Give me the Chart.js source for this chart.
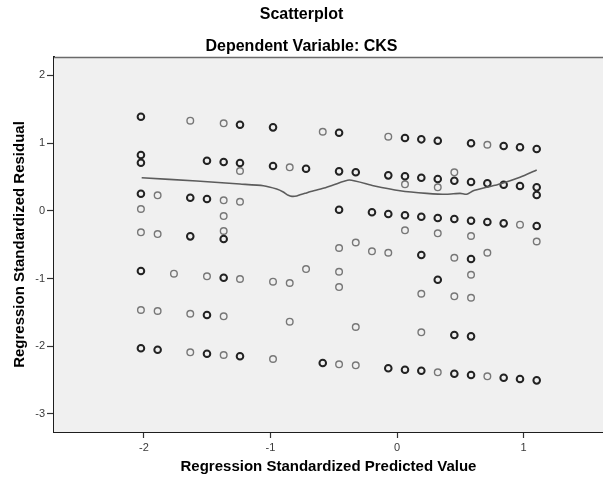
<!DOCTYPE html>
<html>
<head>
<meta charset="utf-8">
<script src="https://cdn.jsdelivr.net/npm/chart.js@4.4.1/dist/chart.umd.min.js"></script>
<style>
  html, body { margin: 0; padding: 0; background: #ffffff; }
  #wrap { width: 603px; height: 480px; }
</style>
</head>
<body>
<div id="wrap"><canvas id="c" width="603" height="480"></canvas></div>
<script>
// Residuals for cases whose points coincide with others (drawn darker)
const heavyPred = [-2.024, -1.241, -0.980, -2.024, -2.024, -1.502, -1.370, -1.241, -0.980, -0.719,
  -2.024, -1.634, -1.502, -1.370, -1.634, -2.024, -1.370, -1.502,
  -2.024, -1.892, -1.502, -1.241, -0.587,
  -0.458, 0.063, 0.192, 0.322, 0.585, 0.843, 0.972, 1.104,
  -0.458, -0.326, -0.069, 0.063, 0.192, 0.322, 0.453, 0.585, 0.714, 0.843, 0.972, 1.104, 1.104,
  -0.458, -0.198, -0.069, 0.063, 0.192, 0.322, 0.453, 0.585, 0.714, 0.843, 1.104,
  0.192, 0.585, 0.322, 0.453, 0.585,
  -0.069, 0.063, 0.192, 0.453, 0.585, 0.843, 0.972, 1.104];
const heavyResid = [1.390, 1.272, 1.233, 0.824, 0.710, 0.740, 0.721, 0.706, 0.662, 0.622,
  0.253, 0.194, 0.174, -0.417, -0.377, -0.889, -0.988, -1.539,
  -2.031, -2.052, -2.111, -2.149, -2.248,
  1.154, 1.075, 1.056, 1.035, 0.997, 0.957, 0.938, 0.913,
  0.583, 0.569, 0.524, 0.510, 0.489, 0.470, 0.445, 0.425, 0.406, 0.386, 0.366, 0.347, 0.233,
  0.016, -0.022, -0.047, -0.066, -0.087, -0.106, -0.121, -0.146, -0.165, -0.185, -0.225,
  -0.653, -0.712, -1.018, -1.835, -1.854,
  -2.326, -2.347, -2.362, -2.406, -2.425, -2.465, -2.485, -2.504];

// Residuals for single cases
const lightPred = [-1.634, -1.370, -0.587, -1.241, -0.848,
  -1.892, -1.370, -1.241, -2.024, -1.370,
  -2.024, -1.892, -1.370,
  -1.763, -1.502, -1.241, -0.980, -0.848, -0.719,
  -2.024, -1.892, -1.634, -1.370, -0.848,
  -1.634, -1.370, -0.980,
  -0.069, 0.714, 0.063, 0.322, 0.453, 0.972,
  0.063, 0.322, 0.585, 1.104,
  -0.458, -0.326, -0.198, -0.069, 0.453, 0.714,
  -0.458, -0.458, 0.585, 0.192, 0.453, 0.585,
  -0.326, 0.192,
  -0.458, -0.326, 0.322, 0.714];
const lightResid = [1.331, 1.292, 1.168, 0.588, 0.643,
  0.229, 0.155, 0.134, 0.027, -0.077,
  -0.318, -0.343, -0.298,
  -0.929, -0.967, -1.007, -1.047, -1.066, -0.860,
  -1.465, -1.480, -1.520, -1.558, -1.638,
  -2.090, -2.130, -2.189,
  1.095, 0.976, 0.391, 0.347, 0.569, -0.205,
  -0.288, -0.332, -0.372, -0.453,
  -0.549, -0.468, -0.598, -0.619, -0.693, -0.619,
  -0.900, -1.126, -0.944, -1.225, -1.263, -1.284,
  -1.716, -1.795,
  -2.267, -2.282, -2.386, -2.445];

// Loess fit line through the residuals
const fitPred = [-2.018, -1.583, -1.241, -1.057, -0.951, -0.899, -0.859, -0.830, -0.793, -0.767,
  -0.727, -0.688, -0.583, -0.504, -0.377, -0.187, 0.024, 0.235, 0.393, 0.498,
  0.551, 0.603, 0.709, 0.814, 0.972, 1.104];
const fitResid = [0.489, 0.440, 0.396, 0.371, 0.322, 0.278, 0.229, 0.214, 0.219, 0.238,
  0.258, 0.282, 0.332, 0.381, 0.455, 0.371, 0.297, 0.258, 0.244, 0.258,
  0.244, 0.297, 0.347, 0.396, 0.495, 0.603];

const xTicks = [-2, -1, 0, 1];
const yTicks = [-3, -2, -1, 0, 1, 2];

const zip = (xs, ys) => xs.map((x, i) => ({ x: x, y: ys[i] }));

const FONT = '"Liberation Sans", Arial, Helvetica, sans-serif';

// Plot panel: light grey fill and top frame line
const panelPlugin = {
  id: 'panel',
  beforeDatasetsDraw(chart) {
    const { ctx, chartArea: a } = chart;
    ctx.save();
    ctx.fillStyle = '#f0f0f0';
    ctx.fillRect(a.left, a.top, a.right - a.left, a.bottom - a.top);
    ctx.strokeStyle = '#6a6a6a';
    ctx.lineWidth = 1.5;
    ctx.beginPath();
    ctx.moveTo(a.left, a.top + 0.5);
    ctx.lineTo(a.right, a.top + 0.5);
    ctx.stroke();
    ctx.restore();
  }
};

new Chart(document.getElementById('c'), {
  type: 'scatter',
  data: {
    datasets: [
      {
        label: 'Fit',
        type: 'line',
        data: zip(fitPred, fitResid),
        showLine: true,
        borderColor: '#5c5c5c',
        borderWidth: 1.6,
        pointRadius: 0,
        tension: 0.2,
        fill: false,
        order: 0
      },
      {
        label: 'Residuals (multiple)',
        data: zip(heavyPred, heavyResid),
        pointStyle: 'circle',
        pointRadius: 3.3,
        borderWidth: 2,
        borderColor: '#222222',
        backgroundColor: 'rgba(0,0,0,0)',
        order: 1
      },
      {
        label: 'Residuals',
        data: zip(lightPred, lightResid),
        pointStyle: 'circle',
        pointRadius: 3.3,
        borderWidth: 1.4,
        borderColor: '#777777',
        backgroundColor: 'rgba(0,0,0,0)',
        order: 2
      }
    ]
  },
  options: {
    responsive: false,
    animation: false,
    events: [],
    layout: { autoPadding: false, padding: { top: 0, left: 0, right: 0, bottom: 0 } },
    plugins: {
      legend: { display: false },
      tooltip: { enabled: false },
      title: {
        display: true,
        text: 'Scatterplot',
        color: '#000',
        font: { family: FONT, size: 16, weight: 'bold', lineHeight: 1.2 },
        padding: { top: 5.4, bottom: 12.8 }
      },
      subtitle: {
        display: true,
        text: 'Dependent Variable: CKS',
        color: '#000',
        font: { family: FONT, size: 16, weight: 'bold', lineHeight: 1.2 },
        padding: { top: 0, bottom: 0.4 }
      }
    },
    scales: {
      x: {
        type: 'linear',
        min: -2.711,
        max: 1.628,
        afterFit(scale) { scale.height = 48; },
        afterBuildTicks(scale) { scale.ticks = xTicks.map(v => ({ value: v })); },
        grid: { drawOnChartArea: false, drawTicks: true, tickLength: 6, tickColor: '#333', tickWidth: 1.2 },
        border: { display: true, color: '#1e1e1e', width: 2 },
        ticks: {
          color: '#3a3a3a',
          font: { family: FONT, size: 11 },
          padding: 3,
          maxRotation: 0,
          callback: v => String(v)
        },
        title: {
          display: true,
          text: 'Regression Standardized Predicted Value',
          color: '#000',
          font: { family: FONT, size: 15, weight: 'bold', lineHeight: 1.2 },
          padding: { top: 0, bottom: 4 }
        }
      },
      y: {
        type: 'linear',
        min: -3.267,
        max: 2.272,
        afterFit(scale) { scale.width = 54; },
        afterBuildTicks(scale) { scale.ticks = yTicks.map(v => ({ value: v })); },
        grid: { drawOnChartArea: false, drawTicks: true, tickLength: 7, tickColor: '#333', tickWidth: 1.2 },
        border: { display: true, color: '#1e1e1e', width: 2 },
        ticks: {
          color: '#3a3a3a',
          font: { family: FONT, size: 11 },
          padding: 2,
          callback: v => String(v)
        },
        title: {
          display: true,
          text: 'Regression Standardized Residual',
          color: '#000',
          font: { family: FONT, size: 15, weight: 'bold', lineHeight: 1.2 },
          padding: { top: 11, bottom: 0 }
        }
      }
    }
  },
  plugins: [panelPlugin]
});
</script>
</body>
</html>
